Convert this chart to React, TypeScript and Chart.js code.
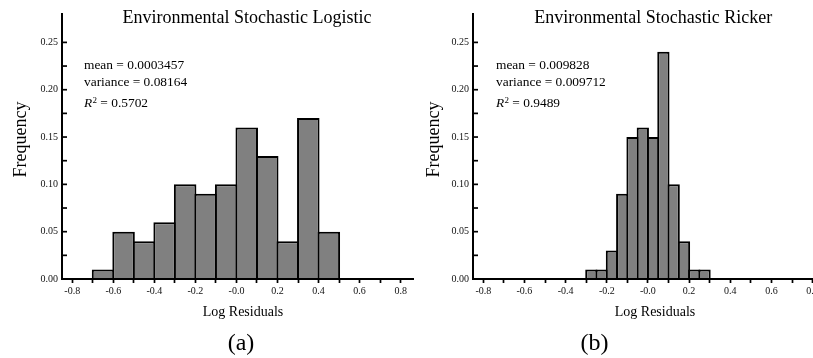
import React, { useEffect, useRef } from 'react';
import { Chart, registerables } from 'chart.js';

Chart.register(...registerables);

// ---------------- data ----------------
const logisticBinStarts = [-0.8, -0.7, -0.6, -0.5, -0.4, -0.3, -0.2, -0.1, 0.0, 0.1, 0.2, 0.3, 0.4, 0.5, 0.6, 0.7];
const logisticFrequency = [0, 0.01, 0.05, 0.04, 0.06, 0.10, 0.09, 0.10, 0.16, 0.13, 0.04, 0.17, 0.05, 0, 0, 0];
const logisticBinWidth = 0.1;

const rickerBinStarts = [
  -0.8, -0.75, -0.7, -0.65, -0.6, -0.55, -0.5, -0.45, -0.4, -0.35, -0.3, -0.25, -0.2, -0.15, -0.1, -0.05,
  0.0, 0.05, 0.1, 0.15, 0.2, 0.25, 0.3, 0.35, 0.4, 0.45, 0.5, 0.55, 0.6, 0.65, 0.7, 0.75,
];
const rickerFrequency = [
  0, 0, 0, 0, 0, 0, 0, 0, 0, 0, 0.01, 0.01, 0.03, 0.09, 0.15, 0.16,
  0.15, 0.24, 0.10, 0.04, 0.01, 0.01, 0, 0, 0, 0, 0, 0, 0, 0, 0, 0,
];
const rickerBinWidth = 0.05;

const xTickValues = [-0.8, -0.7, -0.6, -0.5, -0.4, -0.3, -0.2, -0.1, 0.0, 0.1, 0.2, 0.3, 0.4, 0.5, 0.6, 0.7, 0.8];
const xTickLabels = ['-0.8', '', '-0.6', '', '-0.4', '', '-0.2', '', '-0.0', '', '0.2', '', '0.4', '', '0.6', '', '0.8'];
const yTickValues = [0, 0.025, 0.05, 0.075, 0.1, 0.125, 0.15, 0.175, 0.2, 0.225, 0.25];
const yTickLabels = ['0.00', '', '0.05', '', '0.10', '', '0.15', '', '0.20', '', '0.25'];

const logisticTitle = 'Environmental Stochastic Logistic';
const logisticMean = '0.0003457';
const logisticVariance = '0.08164';
const logisticR2 = '0.5702';

const rickerTitle = 'Environmental Stochastic Ricker';
const rickerMean = '0.009828';
const rickerVariance = '0.009712';
const rickerR2 = '0.9489';

const xAxisTitle = 'Log Residuals';
const yAxisTitle = 'Frequency';

// ---------------- layout / style ----------------
const FONT = '"Liberation Serif", "Times New Roman", serif';
const X_MIN = -0.85;
const X_MAX = 0.865;
const Y_MIN = 0;
const Y_MAX = 0.28;
const CANVAS_H = 358;
const Y_AXIS_W = 62;
const PLOT_TOP = 14;
const PLOT_BOTTOM = 279;
const BAR_BORDER = 2;

type PanelCfg = {
  left: number;
  width: number;
  binStarts: number[];
  freq: number[];
  binWidth: number;
  title: string;
  mean: string;
  variance: string;
  r2: string;
  caption: string;
  titleX: number;
  yLabelX: number;
  xLabelX: number;
  annoX: number;
  captionX: number;
};

function makeDecor(cfg: PanelCfg) {
  return {
    id: 'decor',
    afterDraw(chart: any) {
      const { ctx, chartArea } = chart;
      const yScale = chart.scales.y;
      ctx.save();
      // inward y tick marks
      ctx.strokeStyle = '#000';
      ctx.lineWidth = 1.7;
      for (const t of yScale.ticks) {
        const py = yScale.getPixelForValue(t.value);
        ctx.beginPath();
        ctx.moveTo(chartArea.left, py);
        ctx.lineTo(chartArea.left + 5, py);
        ctx.stroke();
      }
      ctx.fillStyle = '#000';
      ctx.textBaseline = 'alphabetic';
      ctx.textAlign = 'center';
      ctx.font = `18px ${FONT}`;
      ctx.fillText(cfg.title, cfg.titleX, 23);
      ctx.font = `14px ${FONT}`;
      ctx.fillText(xAxisTitle, cfg.xLabelX, 316);
      ctx.font = `24px ${FONT}`;
      ctx.fillText(cfg.caption, cfg.captionX, 350);
      ctx.save();
      ctx.translate(cfg.yLabelX, 139.5);
      ctx.rotate(-Math.PI / 2);
      ctx.font = `18px ${FONT}`;
      ctx.fillText(yAxisTitle, 0, 0);
      ctx.restore();
      // statistics
      ctx.textAlign = 'left';
      ctx.font = `13.4px ${FONT}`;
      ctx.fillText(`mean = ${cfg.mean}`, cfg.annoX, 69.3);
      ctx.fillText(`variance = ${cfg.variance}`, cfg.annoX, 86);
      ctx.font = `italic 13.4px ${FONT}`;
      ctx.fillText('R', cfg.annoX, 107);
      let x = cfg.annoX + ctx.measureText('R').width;
      ctx.font = `9px ${FONT}`;
      ctx.fillText('2', x + 0.3, 102.6);
      x += 0.3 + ctx.measureText('2').width;
      ctx.font = `13.4px ${FONT}`;
      ctx.fillText(` = ${cfg.r2}`, x, 107);
      ctx.restore();
    },
  };
}

function Panel({ cfg }: { cfg: PanelCfg }) {
  const ref = useRef<HTMLCanvasElement | null>(null);
  useEffect(() => {
    if (!ref.current) return;
    const pxPerUnit = (cfg.width - Y_AXIS_W) / (X_MAX - X_MIN);
    const binPx = cfg.binWidth * pxPerUnit;
    const barPct = (binPx + BAR_BORDER) / binPx;
    const chart = new Chart(ref.current, {
      type: 'bar',
      data: {
        datasets: [
          {
            data: cfg.binStarts.map((s, i) => ({ x: s + cfg.binWidth / 2, y: cfg.freq[i] })),
            backgroundColor: '#808080',
            borderColor: '#000',
            borderWidth: BAR_BORDER,
            barPercentage: barPct,
            categoryPercentage: 1,
          } as any,
        ],
      },
      options: {
        responsive: false,
        animation: false,
        layout: { padding: { top: PLOT_TOP, left: 0, right: 0, bottom: 0 } },
        plugins: {
          legend: { display: false },
          tooltip: { enabled: false },
          title: { display: false },
        },
        scales: {
          x: {
            type: 'linear',
            min: X_MIN,
            max: X_MAX,
            offset: false,
            grid: {
              offset: false,
              drawOnChartArea: false,
              drawTicks: true,
              tickLength: 4,
              tickWidth: 1.7,
              tickColor: '#000',
            },
            border: { display: true, color: '#000', width: 2, z: 1 },
            ticks: {
              autoSkip: false,
              maxRotation: 0,
              minRotation: 0,
              padding: 2,
              color: '#111',
              font: { family: FONT, size: 10 },
              callback: (_v: any, i: number) => xTickLabels[i],
            },
            afterBuildTicks: (s: any) => {
              s.ticks = xTickValues.map((v) => ({ value: v }));
            },
            afterFit: (s: any) => {
              s.height = CANVAS_H - PLOT_BOTTOM;
              s.paddingLeft = 0;
              s.paddingRight = 0;
            },
          },
          y: {
            type: 'linear',
            min: Y_MIN,
            max: Y_MAX,
            grid: { drawOnChartArea: false, drawTicks: false },
            border: { display: true, color: '#000', width: 2 },
            ticks: {
              autoSkip: false,
              padding: 4,
              color: '#111',
              font: { family: FONT, size: 10 },
              callback: (_v: any, i: number) => yTickLabels[i],
            },
            afterBuildTicks: (s: any) => {
              s.ticks = yTickValues.map((v) => ({ value: v }));
            },
            afterFit: (s: any) => {
              s.width = Y_AXIS_W;
              s.paddingTop = 0;
              s.paddingBottom = 0;
            },
          },
        },
      } as any,
      plugins: [makeDecor(cfg)],
    });
    return () => chart.destroy();
  }, [cfg]);

  return (
    <canvas
      ref={ref}
      width={cfg.width}
      height={CANVAS_H}
      style={{ position: 'absolute', left: cfg.left, top: 0, width: cfg.width, height: CANVAS_H, display: 'block' }}
    />
  );
}

const panelA: PanelCfg = {
  left: 0,
  width: 414,
  binStarts: logisticBinStarts,
  freq: logisticFrequency,
  binWidth: logisticBinWidth,
  title: logisticTitle,
  mean: logisticMean,
  variance: logisticVariance,
  r2: logisticR2,
  caption: '(a)',
  titleX: 247,
  yLabelX: 26,
  xLabelX: 243,
  annoX: 84,
  captionX: 241,
};

const panelB: PanelCfg = {
  left: 411,
  width: 415,
  binStarts: rickerBinStarts,
  freq: rickerFrequency,
  binWidth: rickerBinWidth,
  title: rickerTitle,
  mean: rickerMean,
  variance: rickerVariance,
  r2: rickerR2,
  caption: '(b)',
  titleX: 242.3,
  yLabelX: 28,
  xLabelX: 244,
  annoX: 85,
  captionX: 183.5,
};

export default function App() {
  return (
    <div
      style={{
        position: 'absolute',
        left: 0,
        top: 0,
        width: 813,
        height: 358,
        overflow: 'hidden',
        background: '#fff',
      }}
    >
      <Panel cfg={panelA} />
      <Panel cfg={panelB} />
    </div>
  );
}
